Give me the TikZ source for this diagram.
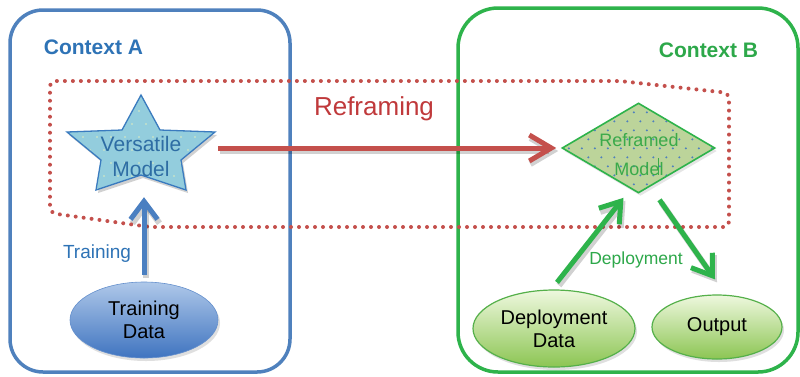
\documentclass[tikz,border=0pt]{standalone}
\usepackage{fontspec}
\setmainfont{Liberation Sans}
\usetikzlibrary{arrows.meta,shapes.geometric,shadows}
\definecolor{ablue}{HTML}{4F81BD}
\definecolor{atext}{HTML}{2E73B6}
\definecolor{bgreen}{HTML}{2EB34B}
\definecolor{btext}{HTML}{2DA84A}
\definecolor{rred}{HTML}{C4504C}
\definecolor{rtext}{HTML}{C0393B}
\definecolor{starfill}{HTML}{93CDDD}
\definecolor{starline}{HTML}{3A7BBF}
\definecolor{startext}{HTML}{2E6DA4}
\definecolor{diafill}{HTML}{BCD49A}
\definecolor{diatext}{HTML}{3AAA4A}
\definecolor{dotblue}{HTML}{4F81BD}
\definecolor{tarrow}{HTML}{4A7FC1}
\definecolor{ttop}{HTML}{AFC8E9}
\definecolor{tbot}{HTML}{3F74C0}
\definecolor{gtop}{HTML}{EEF8DE}
\definecolor{gbot}{HTML}{8CC553}
\definecolor{gline}{HTML}{55B04A}
\begin{document}
\begin{tikzpicture}[x=1pt,y=-1pt,
  ctxbox/.style={draw, line width=3.5pt, inner sep=0pt, minimum width=#1},
  ctxlabel/.style={font=\fontsize{21}{24}\selectfont\bfseries, anchor=base},
  shade/.style={preaction={draw, black, opacity=0.18, line width=6pt, transform canvas={xshift=2pt,yshift=-3pt}}},
  bigarrow/.style={line width=5pt, shade},
  dataell/.style={ellipse, inner sep=0pt, align=center, font=\fontsize{20}{23}\selectfont,
    drop shadow={shadow xshift=2pt, shadow yshift=-3pt, opacity=0.25}},
]
\useasboundingbox (0,0) rectangle (800,376);
\fill[white] (0,0) rectangle (800,376);

% context boxes
\node[ctxbox=280pt, draw=ablue, rounded corners=33pt, minimum height=362pt] (ctxA) at (150,191) {};
\node[ctxbox=340pt, draw=bgreen, rounded corners=40pt, minimum height=364pt] (ctxB) at (628,190) {};
\node[ctxlabel, text=atext] (labA) at (93.5,54) {Context A};
\node[ctxlabel, text=btext] (labB) at (708.5,57) {Context B};

% dotted reframing region
\draw[rred, line width=4pt, line cap=round, dash pattern=on 0pt off 8pt, rounded corners=6pt]
  (729,227) -- (150,227) -- (50,213) -- (50,81) -- (620,81) -- (729,93) -- cycle;

\node[font=\fontsize{26}{30}\selectfont, text=rtext, anchor=base] (reframing) at (374,115) {Reframing};

% versatile model star
\def\starpath{(141,95) -- (160,130) -- (215,132) -- (181,160) -- (186,190) -- (141,175) -- (96,190) -- (101,160) -- (67,132) -- (122,130) -- cycle}
\fill[black, opacity=0.18, shift={(2,3)}] \starpath;
\begin{scope}
  \clip \starpath;
  \fill[starfill] (60,90) rectangle (220,195);
  \foreach \j in {0,...,7}{
    \pgfmathsetmacro\off{mod(\j,2)*7}
    \foreach \i in {0,...,11}{
      \fill[white!70!yellow, opacity=0.7] (62+\i*14+\off, 98+\j*13) circle (0.8pt);
    }
  }
\end{scope}
\draw[starline, line width=1.3pt, line join=miter] \starpath;
\node[inner sep=0pt, minimum width=148pt, minimum height=95pt] (vm) at (141,142.5) {};
\node[align=center, text=startext, font=\fontsize{21}{25}\selectfont] (vmtext) at (141,156) {Versatile\\Model};

% reframed model diamond
\node[diamond, aspect=1.7, inner sep=0pt, minimum width=153pt, minimum height=90pt,
  draw=bgreen, line width=1.6pt, fill=diafill,
  drop shadow={shadow xshift=2pt, shadow yshift=-3pt, opacity=0.2},
  path picture={
    \foreach \j in {0,...,10}{
      \pgfmathsetmacro\off{mod(\j,2)*6.5}
      \foreach \i in {0,...,12}{
        \fill[dotblue] ([shift={(\i*13+\off,\j*9)}]path picture bounding box.north west) circle (1.1pt);
      }
    }
  }] (rm) at (638.5,148) {};
\node[align=center, text=diatext, font=\fontsize{18}{29}\selectfont] (rmtext) at (639,155) {Reframed\\Model};
\draw[diatext, line width=1pt] (658,158) -- (658,175);

% data nodes
\node[dataell, minimum width=148pt, minimum height=76pt, top color=ttop, bottom color=tbot, draw=tbot!80!white, line width=0.6pt] (tdata) at (144,320) {Training\\Data};
\node[dataell, minimum width=162pt, minimum height=77pt, top color=gtop, bottom color=gbot, draw=gline, line width=1.2pt] (ddata) at (554,328.5) {Deployment\\Data};
\node[dataell, minimum width=130pt, minimum height=64pt, top color=gtop, bottom color=gbot, draw=gline, line width=1.2pt] (out) at (717,327) {Output};

% arrows
\draw[bigarrow, tarrow, -{Straight Barb[length=18pt,width=27pt]}, shorten <=7pt, shorten >=7pt]
  (tdata.north) -- (tdata.north |- vm.south);
\node[font=\fontsize{19}{22}\selectfont, text=atext, anchor=base] (ltrain) at (97,258) {Training};

\draw[bigarrow, rred, -{Straight Barb[length=22pt,width=26pt]}, shorten <=3pt, shorten >=5pt]
  (vm.east |- rm.west) -- (rm.west);

\draw[bigarrow, bgreen, -{Straight Barb[length=19pt,width=26pt]}]
  ([xshift=3pt,yshift=7pt]ddata.north) -- ([xshift=-15pt,yshift=-4pt]rm.south);
\draw[bigarrow, bgreen, -{Straight Barb[length=19pt,width=26pt]}]
  ([xshift=21pt,yshift=-6pt]rm.south) -- ([xshift=-2pt,yshift=15pt]out.north);
\node[font=\fontsize{17.5}{20}\selectfont, text=btext, anchor=base] (ldeploy) at (636,264) {Deployment};
\end{tikzpicture}
\end{document}
